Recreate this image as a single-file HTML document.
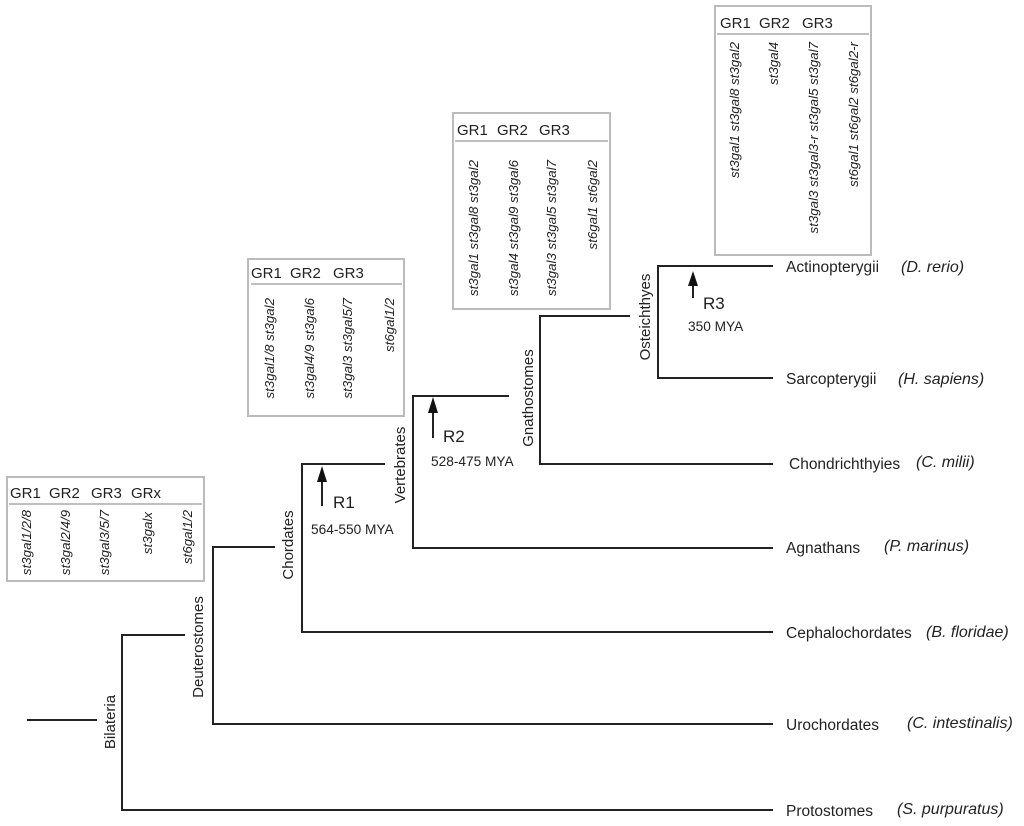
<!DOCTYPE html>
<html><head><meta charset="utf-8"><style>
html,body{margin:0;padding:0;background:#fff;}
svg{display:block;}
text{font-family:"Liberation Sans",sans-serif;fill:#222;}
.it{font-style:italic;font-size:13.3px;}
.gr{font-size:15px;}
.lb{font-size:15.5px;}
.cl{font-size:15px;}
.sp{font-size:16px;font-style:italic;}
.my{font-size:13.7px;}
</style></head><body>
<svg width="1024" height="826" viewBox="0 0 1024 826" xmlns="http://www.w3.org/2000/svg">
<g stroke="#222" stroke-width="2" fill="none">
<line x1="27" y1="720" x2="97" y2="720"/>
<polyline points="185,635 122,635 122,810 773,810"/>
<polyline points="275,547 213,547 213,724 773,724"/>
<polyline points="385,464 302,464 302,632 773,632"/>
<polyline points="509,396 413,396 413,548 773,548"/>
<polyline points="630,316 540,316 540,464 773,464"/>
<polyline points="773,266 658,266 658,378 773,378"/>
<line x1="322" y1="480" x2="322" y2="506"/>
<line x1="433" y1="410" x2="433" y2="438"/>
<line x1="693" y1="284" x2="693" y2="298"/>
</g>
<g fill="#111">
<polygon points="322,466 317,482 327,482"/>
<polygon points="433,397 428,413 438,413"/>
<polygon points="693,271 688,286 698,286"/>
</g>
<text x="333" y="508" style="font-size:17px">R1</text>
<text class="my" x="311" y="534">564-550 MYA</text>
<text x="443" y="442" style="font-size:17px">R2</text>
<text class="my" x="431" y="466">528-475 MYA</text>
<text x="703" y="309" style="font-size:17px">R3</text>
<text class="my" x="688" y="331">350 MYA</text>

<g class="cl" text-anchor="middle">
<text transform="translate(115,722) rotate(-90)">Bilateria</text>
<text transform="translate(203,647) rotate(-90)">Deuterostomes</text>
<text transform="translate(293,545) rotate(-90)">Chordates</text>
<text transform="translate(405,465) rotate(-90)">Vertebrates</text>
<text transform="translate(533,398) rotate(-90)">Gnathostomes</text>
<text transform="translate(650,317) rotate(-90)">Osteichthyes</text>
</g>

<text class="lb" x="786" y="272">Actinopterygii</text><text class="sp" x="901" y="272">(D. rerio)</text>
<text class="lb" x="786" y="384">Sarcopterygii</text><text class="sp" x="898" y="384">(H. sapiens)</text>
<text class="lb" x="789" y="469">Chondrichthyies</text><text class="sp" x="916" y="467">(C. milii)</text>
<text class="lb" x="786" y="553">Agnathans</text><text class="sp" x="884" y="551">(P. marinus)</text>
<text class="lb" x="786" y="638">Cephalochordates</text><text class="sp" x="926" y="637">(B. floridae)</text>
<text class="lb" x="786" y="730">Urochordates</text><text class="sp" x="907" y="728">(C. intestinalis)</text>
<text class="lb" x="786" y="816">Protostomes</text><text class="sp" x="897" y="814">(S. purpuratus)</text>

<!-- Box 1 -->
<rect x="7" y="477" width="197" height="104" fill="none" stroke="#bbb" stroke-width="2"/>
<line x1="9" y1="504" x2="202" y2="504" stroke="#aaa" stroke-width="1.5"/>
<text class="gr" x="10" y="498">GR1</text><text class="gr" x="49" y="498">GR2</text><text class="gr" x="91" y="498">GR3</text><text class="gr" x="131" y="498">GRx</text>
<g class="it" text-anchor="end">
<text transform="translate(31,510) rotate(-90)">st3gal1/2/8</text>
<text transform="translate(70,510) rotate(-90)">st3gal2/4/9</text>
<text transform="translate(109,510) rotate(-90)">st3gal3/5/7</text>
<text transform="translate(152,512) rotate(-90)">st3galx</text>
<text transform="translate(192,510) rotate(-90)">st6gal1/2</text>
</g>

<!-- Box 2 -->
<rect x="248" y="259" width="156" height="157" fill="none" stroke="#bbb" stroke-width="2"/>
<line x1="251" y1="284" x2="402" y2="284" stroke="#aaa" stroke-width="1.5"/>
<text class="gr" x="251" y="278">GR1</text><text class="gr" x="290" y="278">GR2</text><text class="gr" x="333" y="278">GR3</text>
<g class="it" text-anchor="end">
<text transform="translate(274,298) rotate(-90)">st3gal1/8 st3gal2</text>
<text transform="translate(314,298) rotate(-90)">st3gal4/9 st3gal6</text>
<text transform="translate(352,298) rotate(-90)">st3gal3 st3gal5/7</text>
<text transform="translate(394,298) rotate(-90)">st6gal1/2</text>
</g>

<!-- Box 3 -->
<rect x="453" y="113" width="157" height="196" fill="none" stroke="#bbb" stroke-width="2"/>
<line x1="455" y1="141" x2="608" y2="141" stroke="#aaa" stroke-width="1.5"/>
<text class="gr" x="457" y="135">GR1</text><text class="gr" x="497" y="135">GR2</text><text class="gr" x="539" y="135">GR3</text>
<g class="it" text-anchor="end">
<text transform="translate(478,160) rotate(-90)">st3gal1 st3gal8 st3gal2</text>
<text transform="translate(518,160) rotate(-90)">st3gal4 st3gal9 st3gal6</text>
<text transform="translate(556,160) rotate(-90)">st3gal3 st3gal5 st3gal7</text>
<text transform="translate(597,160) rotate(-90)">st6gal1 st6gal2</text>
</g>

<!-- Box 4 -->
<rect x="715" y="6" width="156" height="249" fill="none" stroke="#bbb" stroke-width="2"/>
<line x1="717" y1="34" x2="869" y2="34" stroke="#aaa" stroke-width="1.5"/>
<text class="gr" x="720" y="28">GR1</text><text class="gr" x="759" y="28">GR2</text><text class="gr" x="802" y="28">GR3</text>
<g class="it" text-anchor="end">
<text transform="translate(739,42) rotate(-90)">st3gal1 st3gal8 st3gal2</text>
<text transform="translate(778,42) rotate(-90)">st3gal4</text>
<text transform="translate(818,42) rotate(-90)">st3gal3 st3gal3-r st3gal5 st3gal7</text>
<text transform="translate(858,42) rotate(-90)">st6gal1 st6gal2 st6gal2-r</text>
</g>
</svg>
</body></html>
